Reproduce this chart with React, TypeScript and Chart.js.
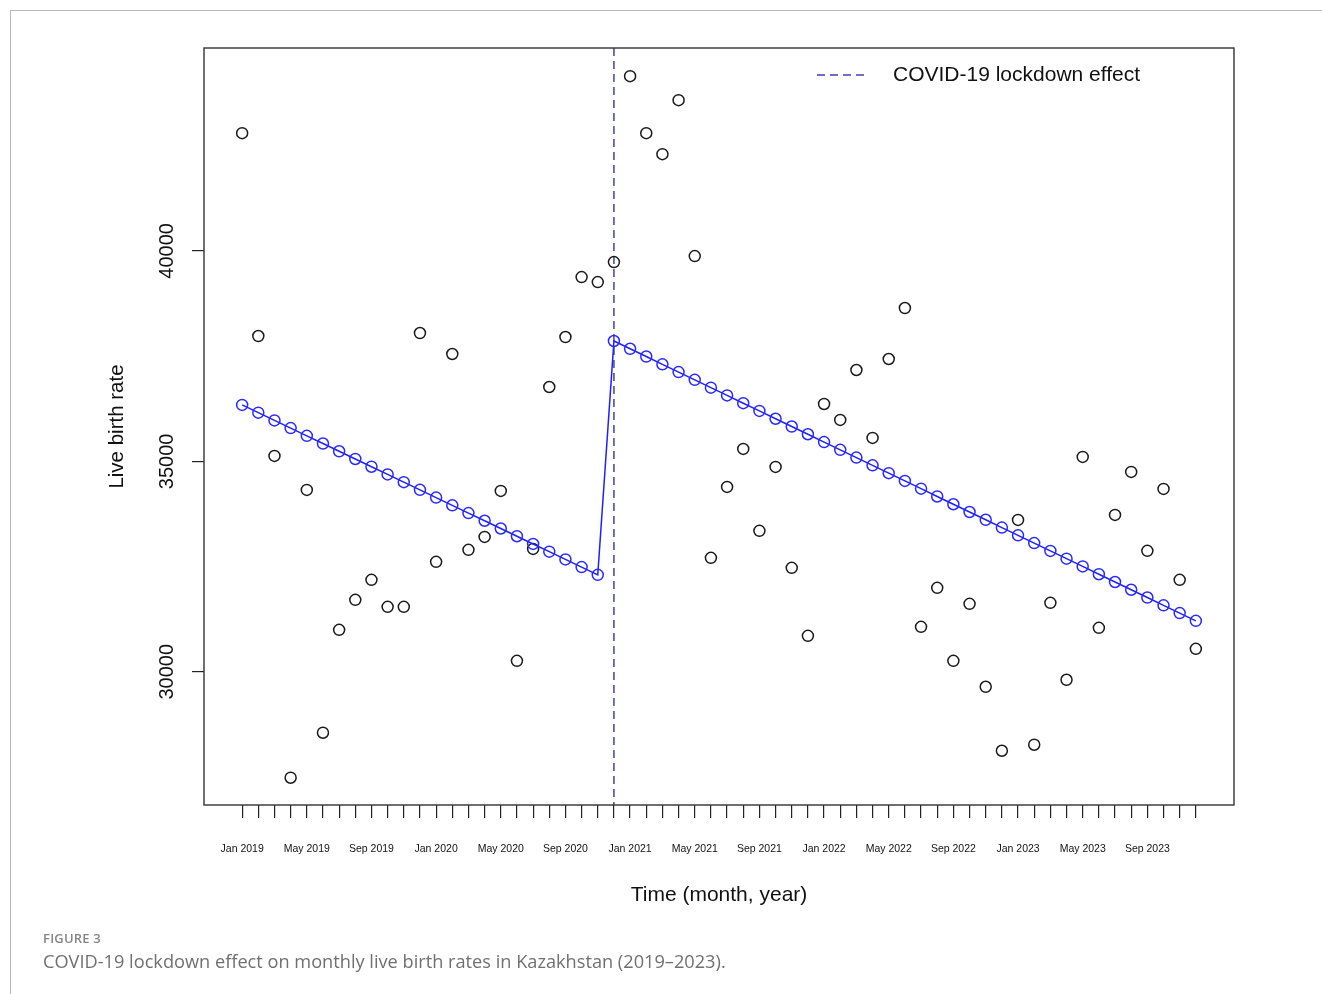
import React, { useEffect, useRef } from 'react';
import { Chart, registerables } from 'chart.js';

Chart.register(...registerables);

// ---- data ----
const MONTH_NAMES = ['Jan', 'Feb', 'Mar', 'Apr', 'May', 'Jun', 'Jul', 'Aug', 'Sep', 'Oct', 'Nov', 'Dec'];
const YEARS = [2019, 2020, 2021, 2022, 2023];
const MONTH_LABELS: string[] = YEARS.flatMap((y) => MONTH_NAMES.map((m) => `${m} ${y}`));

const OBSERVED = [
  42797, 37977, 35128, 27483, 34321, 28552, 30997, 31709, 32184, 31543, 31543, 38048,
  32612, 37550, 32897, 33205, 34297, 30261, 32920, 36766, 37953, 39378, 39259, 39734,
  44150, 42797, 42298, 43580, 39877, 32707, 34392, 35294, 33348, 34867, 32469, 30855,
  36363, 35983, 37170, 35556, 37431, 38642, 31068, 31994, 30261, 31614, 29644, 28124,
  33609, 28267, 31638, 29810, 35104, 31045, 33727, 34748, 32873, 34345, 32184, 30546,
];

const FITTED = [
  36340, 36157, 35973, 35790, 35606, 35423, 35239, 35056, 34872, 34689, 34505, 34322,
  34138, 33955, 33771, 33588, 33404, 33221, 33037, 32854, 32670, 32487, 32303, 37859,
  37674, 37490, 37305, 37120, 36936, 36751, 36566, 36381, 36197, 36012, 35827, 35643,
  35458, 35273, 35089, 34904, 34719, 34534, 34350, 34165, 33980, 33796, 33611, 33426,
  33242, 33057, 32872, 32688, 32503, 32318, 32133, 31949, 31764, 31579, 31395, 31210,
];

const Y_TICKS = [30000, 35000, 40000];
const LOCKDOWN_MONTH = 'Dec 2020';
const LABEL_EVERY = 4;
const LEGEND_TEXT = 'COVID-19 lockdown effect';
const X_TITLE = 'Time (month, year)';
const Y_TITLE = 'Live birth rate';

const FONT = '"Liberation Sans", Arial, Helvetica, sans-serif';
const DASH_COLOR = '#4242a8';

const overlayPlugin = {
  id: 'rOverlay',
  beforeDatasetsDraw(chart: any) {
    const { ctx, chartArea, scales } = chart;
    const x = scales.x;
    const idx = MONTH_LABELS.indexOf(LOCKDOWN_MONTH);
    const px = x.getPixelForValue(idx);
    ctx.save();
    ctx.strokeStyle = DASH_COLOR;
    ctx.lineWidth = 1.5;
    ctx.setLineDash([8, 5]);
    ctx.beginPath();
    ctx.moveTo(px, chartArea.top);
    ctx.lineTo(px, chartArea.bottom);
    ctx.stroke();
    ctx.restore();
  },
  afterDraw(chart: any) {
    const { ctx, chartArea, scales } = chart;
    const y = scales.y;
    ctx.save();
    ctx.strokeStyle = '#333';
    ctx.lineWidth = 1.4;
    ctx.strokeRect(chartArea.left, chartArea.top, chartArea.right - chartArea.left, chartArea.bottom - chartArea.top);

    ctx.fillStyle = '#111';
    ctx.font = `20px ${FONT}`;
    ctx.textAlign = 'center';
    ctx.textBaseline = 'middle';
    Y_TICKS.forEach((v) => {
      const py = y.getPixelForValue(v);
      ctx.save();
      ctx.translate(chartArea.left - 37, py);
      ctx.rotate(-Math.PI / 2);
      ctx.fillText(String(v), 0, 0);
      ctx.restore();
    });

    ctx.font = `20.5px ${FONT}`;
    ctx.save();
    ctx.translate(chartArea.left - 87, (chartArea.top + chartArea.bottom) / 2);
    ctx.rotate(-Math.PI / 2);
    ctx.fillText(Y_TITLE, 0, 0);
    ctx.restore();

    ctx.font = `21px ${FONT}`;
    ctx.fillText(X_TITLE, (chartArea.left + chartArea.right) / 2, chartArea.bottom + 90);

    const ly = chartArea.top + 27;
    const lx0 = chartArea.right - 417;
    ctx.strokeStyle = DASH_COLOR;
    ctx.lineWidth = 1.5;
    ctx.setLineDash([8, 5]);
    ctx.beginPath();
    ctx.moveTo(lx0, ly);
    ctx.lineTo(lx0 + 51, ly);
    ctx.stroke();
    ctx.setLineDash([]);
    ctx.font = `21px ${FONT}`;
    ctx.textAlign = 'left';
    ctx.fillStyle = '#111';
    ctx.fillText(LEGEND_TEXT, lx0 + 76, ly);
    ctx.restore();
  },
};

export default function App() {
  const ref = useRef<HTMLCanvasElement | null>(null);

  useEffect(() => {
    if (!ref.current) return;
    const obsPts = OBSERVED.map((v, i) => ({ x: i, y: v }));
    const fitPts = FITTED.map((v, i) => ({ x: i, y: v }));
    const n = MONTH_LABELS.length - 1;
    const pad = n * 0.04;

    const chart = new Chart(ref.current, {
      type: 'scatter',
      data: {
        datasets: [
          {
            label: 'Fitted',
            data: fitPts,
            showLine: true,
            borderColor: '#1f1fff',
            backgroundColor: 'rgba(0,0,0,0)',
            borderWidth: 1.5,
            pointRadius: 5.5,
            pointBorderWidth: 1.5,
            pointBorderColor: '#2a2aff',
            pointBackgroundColor: 'rgba(0,0,0,0)',
            tension: 0,
          },
          {
            label: 'Observed',
            data: obsPts,
            showLine: false,
            pointRadius: 5.5,
            pointBorderWidth: 1.5,
            pointBorderColor: '#1a1a1a',
            pointBackgroundColor: 'rgba(0,0,0,0)',
          },
        ],
      },
      options: {
        animation: false,
        responsive: false,
        maintainAspectRatio: false,
        layout: { padding: { left: 0, top: 48, right: 88, bottom: 0 } },
        plugins: { legend: { display: false }, tooltip: { enabled: false } },
        scales: {
          x: {
            type: 'linear',
            min: -pad,
            max: n + pad,
            afterBuildTicks: (s: any) => {
              s.ticks = MONTH_LABELS.map((_, i) => ({ value: i }));
            },
            afterFit: (s: any) => {
              s.height = 189;
            },
            grid: {
              drawOnChartArea: false,
              drawTicks: true,
              tickLength: 13,
              color: '#222',
              lineWidth: 1.2,
            },
            border: { display: false },
            ticks: {
              autoSkip: false,
              maxRotation: 0,
              minRotation: 0,
              padding: 25,
              color: '#111',
              font: { family: FONT, size: 10.5 },
              callback: (v: any) => {
                const i = Math.round(Number(v));
                return i % LABEL_EVERY === 0 ? MONTH_LABELS[i] : '';
              },
            },
          },
          y: {
            type: 'linear',
            min: 26835,
            max: 44820,
            afterBuildTicks: (s: any) => {
              s.ticks = Y_TICKS.map((v) => ({ value: v }));
            },
            afterFit: (s: any) => {
              s.width = 204;
            },
            grid: {
              drawOnChartArea: false,
              drawTicks: true,
              tickLength: 12,
              color: '#222',
              lineWidth: 1.2,
            },
            border: { display: false },
            ticks: { display: false },
          },
        },
      },
      plugins: [overlayPlugin],
    });
    return () => chart.destroy();
  }, []);

  return (
    <div style={{ position: 'absolute', left: 0, top: 0, width: 1322, height: 994, background: '#fff', overflow: 'hidden' }}>
      <div
        style={{
          position: 'absolute',
          left: 10,
          top: 10,
          width: 1320,
          height: 990,
          borderLeft: '1.5px solid #b8b8b8',
          borderTop: '1.5px solid #b8b8b8',
        }}
      />
      <canvas ref={ref} width={1322} height={994} style={{ position: 'absolute', left: 0, top: 0 }} />
      <div
        style={{
          position: 'absolute',
          left: 43,
          top: 929,
          fontFamily: '"Open Sans", sans-serif',
          fontSize: 13,
          fontWeight: 600,
          color: '#858585',
          letterSpacing: 0.2,
        }}
      >
        FIGURE 3
      </div>
      <div
        style={{
          position: 'absolute',
          left: 43,
          top: 949,
          fontFamily: '"Open Sans", sans-serif',
          fontSize: 18.2,
          color: '#707070',
          whiteSpace: 'nowrap',
        }}
      >
        COVID-19 lockdown effect on monthly live birth rates in Kazakhstan (2019–2023).
      </div>
    </div>
  );
}
